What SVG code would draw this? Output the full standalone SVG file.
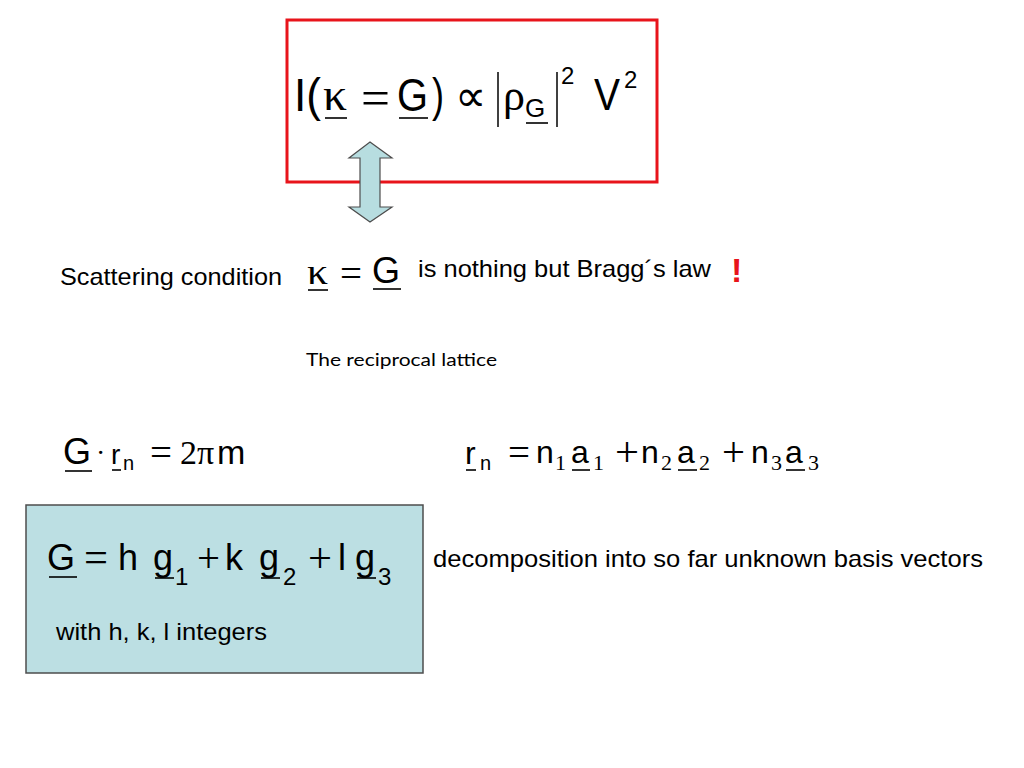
<svg xmlns="http://www.w3.org/2000/svg" width="1024" height="768" viewBox="0 0 1024 768">
<style>
.s{font-family:"Liberation Sans",Arial,sans-serif;fill:#000}
.m{font-family:"Liberation Serif","Times New Roman",serif;fill:#000}
.u{stroke:#000;stroke-width:1.6}
.b{stroke:#000;stroke-width:1.5}
</style>
<rect width="1024" height="768" fill="#fff"/>
<g id="intensity-box">
<rect x="287" y="20" width="370" height="162" fill="none" stroke="#e8141b" stroke-width="3"/>
<text class="s" font-size="46" x="294" y="111" textLength="27" lengthAdjust="spacingAndGlyphs">I(</text>
<text class="m" font-size="46" x="323" y="110" textLength="24" lengthAdjust="spacingAndGlyphs">κ</text>
<line class="u" x1="325" y1="118" x2="347" y2="118"/>
<text class="m" font-size="50" x="361" y="115" textLength="29" lengthAdjust="spacingAndGlyphs">=</text>
<text class="s" font-size="46" x="397" y="111" textLength="31" lengthAdjust="spacingAndGlyphs">G</text>
<line class="u" x1="399" y1="118" x2="428" y2="118"/>
<text class="s" font-size="46" x="432" y="111" textLength="12" lengthAdjust="spacingAndGlyphs">)</text>
<text class="m" font-size="44" x="455" y="111">∝</text>
<line class="b" x1="498" y1="72" x2="498" y2="127"/>
<text class="m" font-size="44" x="503" y="110">ρ</text>
<text class="s" font-size="26" x="525" y="117">G</text>
<line class="u" x1="526" y1="123" x2="548" y2="123"/>
<line class="b" x1="557" y1="72" x2="557" y2="127"/>
<text class="s" font-size="24" x="561" y="84">2</text>
<text class="s" font-size="44" x="594" y="110" textLength="26" lengthAdjust="spacingAndGlyphs">V</text>
<text class="s" font-size="24" x="624" y="88">2</text>
</g>
<g id="double-arrow">
<polygon points="370,142 392,158 380,158 380,207 392,207 370,222 349,207 360,207 360,158 349,158" fill="#b7dde0" stroke="#4d4d4d" stroke-width="1.2"/>
</g>
<g id="scattering-condition">
<text class="s" font-size="24" x="60" y="285" textLength="222" lengthAdjust="spacingAndGlyphs">Scattering condition</text>
<text class="m" font-size="36" x="307" y="284" textLength="21" lengthAdjust="spacingAndGlyphs">κ</text>
<line class="u" x1="308" y1="290" x2="328" y2="290"/>
<text class="m" font-size="40" x="340" y="287" textLength="22" lengthAdjust="spacingAndGlyphs">=</text>
<text class="s" font-size="36" x="372" y="283">G</text>
<line class="u" x1="373" y1="289" x2="401" y2="289"/>
<text class="s" font-size="24" x="418" y="277" textLength="293" lengthAdjust="spacingAndGlyphs">is nothing but Bragg´s law</text>
<text class="s" font-size="34" font-weight="bold" x="731" y="282" style="fill:#e8141b">!</text>
</g>
<g id="title">
<text font-family="Lato,'Open Sans',sans-serif" font-size="18" x="306" y="366" textLength="191" lengthAdjust="spacingAndGlyphs">The reciprocal lattice</text>
</g>
<g id="eq-G-dot-r">
<text class="s" font-size="36" x="63" y="464">G</text>
<line class="u" x1="65" y1="471" x2="92" y2="471"/>
<text class="m" font-size="28" x="96" y="462">·</text>
<text class="s" font-size="28" x="111" y="464">r</text>
<line class="u" x1="112" y1="470" x2="121" y2="470"/>
<text class="s" font-size="20" x="123" y="470">n</text>
<text class="m" font-size="40" x="150" y="466" textLength="22" lengthAdjust="spacingAndGlyphs">=</text>
<text class="m" font-size="34" x="180" y="464">2π</text>
<text class="s" font-size="34" x="217" y="464">m</text>
</g>
<g id="eq-r-n">
<text class="s" font-size="32" x="465" y="464">r</text>
<line class="u" x1="466" y1="470" x2="476" y2="470"/>
<text class="s" font-size="20" x="480" y="470">n</text>
<text class="m" font-size="40" x="508" y="466" textLength="22" lengthAdjust="spacingAndGlyphs">=</text>
<text class="s" font-size="32" x="536" y="463">n</text>
<text class="m" font-size="22" x="555" y="470">1</text>
<text class="s" font-size="32" x="571" y="463">a</text>
<line class="u" x1="572" y1="470" x2="590" y2="470"/>
<text class="m" font-size="22" x="593" y="470">1</text>
<text class="m" font-size="42" x="615" y="466" textLength="24" lengthAdjust="spacingAndGlyphs">+</text>
<text class="s" font-size="32" x="641" y="463">n</text>
<text class="m" font-size="22" x="661" y="470">2</text>
<text class="s" font-size="32" x="677" y="463">a</text>
<line class="u" x1="678" y1="470" x2="697" y2="470"/>
<text class="m" font-size="22" x="699" y="470">2</text>
<text class="m" font-size="42" x="722" y="466" textLength="23" lengthAdjust="spacingAndGlyphs">+</text>
<text class="s" font-size="32" x="751" y="463">n</text>
<text class="m" font-size="22" x="771" y="470">3</text>
<text class="s" font-size="32" x="785" y="463">a</text>
<line class="u" x1="786" y1="470" x2="805" y2="470"/>
<text class="m" font-size="22" x="808" y="470">3</text>
</g>
<g id="decomposition-box">
<rect x="26" y="505" width="397" height="168" fill="#bcdfe3" stroke="#4d4d4d" stroke-width="1.5"/>
<text class="s" font-size="36" x="47" y="570">G</text>
<line class="u" x1="49" y1="577" x2="77" y2="577"/>
<text class="m" font-size="44" x="84" y="572" textLength="24" lengthAdjust="spacingAndGlyphs">=</text>
<text class="s" font-size="36" x="118" y="570">h</text>
<text class="s" font-size="36" x="153" y="570">g</text>
<line class="u" x1="155" y1="578" x2="174" y2="578"/>
<text class="s" font-size="24" x="175" y="585">1</text>
<text class="m" font-size="42" x="197" y="572" textLength="23" lengthAdjust="spacingAndGlyphs">+</text>
<text class="s" font-size="36" x="225" y="570">k</text>
<text class="s" font-size="36" x="259" y="570">g</text>
<line class="u" x1="261" y1="578" x2="280" y2="578"/>
<text class="s" font-size="24" x="283" y="585">2</text>
<text class="m" font-size="42" x="308" y="572" textLength="24" lengthAdjust="spacingAndGlyphs">+</text>
<text class="s" font-size="36" x="338" y="570">l</text>
<text class="s" font-size="36" x="355" y="570">g</text>
<line class="u" x1="357" y1="578" x2="376" y2="578"/>
<text class="s" font-size="24" x="378" y="585">3</text>
<text class="s" font-size="24" x="56" y="640" textLength="211" lengthAdjust="spacingAndGlyphs">with h, k, l integers</text>
</g>
<g id="decomposition-note">
<text class="s" font-size="24" x="433" y="567" textLength="550" lengthAdjust="spacingAndGlyphs">decomposition into so far unknown basis vectors</text>
</g>
</svg>
